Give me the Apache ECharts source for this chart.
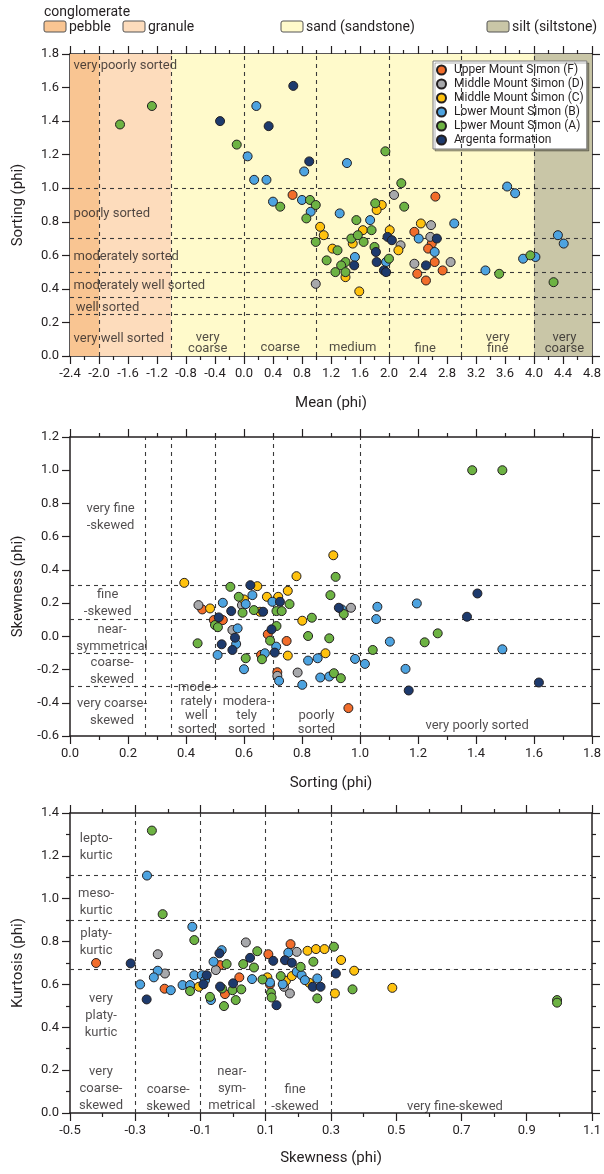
<!DOCTYPE html>
<html>
<head>
<meta charset="utf-8">
<script src="https://cdn.jsdelivr.net/npm/echarts@6/dist/echarts.min.js"></script>
<style>
html, body {margin: 0; background: #fff;}
#chart {width: 604px; height: 1174px;}
</style>
</head>
<body>
<div id="chart"></div>
<script>
// series names and colours
const names = ['Upper Mount Simon (F)', 'Middle Mount Simon (D)', 'Middle Mount Simon (C)',
	'Lower Mount Simon (B)', 'Lower Mount Simon (A)', 'Argenta formation'];
const colors = ['#F26D2B', '#A7A8AB', '#FFC20E', '#4DA3E0', '#6DB343', '#1D3A6D'];

// panel 1: mean (phi) vs sorting (phi)
const sortF = [[0.67,0.96],[2.64,0.95],[2.35,0.74],[2.59,0.67],[2.54,0.64],[2.63,0.56],[2.74,0.51],[2.39,0.49],[2.51,0.45]];
const sortD = [[2.07,0.96],[2.58,0.78],[2.16,0.66],[2.57,0.71],[2.35,0.55],[2.85,0.56],[0.99,0.43]];
const sortC = [[1.90,0.90],[1.83,0.87],[1.05,0.77],[1.10,0.72],[1.64,0.75],[2.01,0.75],[2.44,0.79],[1.50,0.67],[2.13,0.63],[1.22,0.64],[1.40,0.47],[1.59,0.385]];
const sortB = [[0.05,1.19],[1.42,1.15],[0.83,1.10],[0.14,1.05],[0.31,1.05],[0.40,0.92],[0.80,0.93],[0.92,0.86],[1.32,0.85],[1.74,0.81],[2.90,0.79],[2.41,0.70],[2.63,0.62],[1.53,0.59],[1.96,0.56],[0.17,1.49],[3.63,1.01],[3.74,0.97],[4.33,0.72],[4.41,0.67],[3.85,0.58],[4.02,0.59],[3.33,0.51]];
const sortA = [[-1.71,1.38],[-1.27,1.49],[-0.10,1.26],[1.95,1.22],[2.17,1.03],[0.50,0.89],[0.91,0.93],[0.99,0.90],[0.86,0.82],[1.81,0.91],[2.21,0.89],[1.55,0.81],[1.76,0.75],[0.99,0.68],[1.48,0.70],[1.57,0.72],[1.65,0.68],[1.29,0.63],[1.14,0.57],[1.40,0.56],[1.34,0.54],[1.26,0.50],[1.40,0.50],[1.80,0.65],[2.00,0.58],[3.95,0.60],[3.52,0.49],[4.27,0.44]];
const sortArg = [[-0.33,1.40],[0.68,1.61],[0.34,1.37],[0.90,1.16],[1.98,0.71],[2.04,0.69],[2.66,0.70],[1.52,0.54],[1.82,0.62],[1.83,0.56],[1.93,0.51],[1.96,0.50],[2.51,0.54]];

// panel 2: sorting (phi) vs skewness (phi)
const skewF = [[0.456,0.162],[0.496,0.098],[0.527,0.098],[0.682,0.012],[0.659,-0.112],[0.747,-0.028],[0.715,-0.216],[0.96,-0.432]];
const skewD = [[0.443,0.188],[0.593,0.188],[0.969,0.172],[0.56,0.038],[0.715,-0.238],[0.785,-0.218]];
const skewC = [[0.394,0.322],[0.483,0.168],[0.6,0.222],[0.646,0.302],[0.655,0.148],[0.679,0.238],[0.718,0.238],[0.751,0.274],[0.781,0.362],[0.801,0.094],[0.908,0.488],[0.751,-0.116],[0.881,-0.102]];
const skewB = [[0.527,0.202],[0.606,0.194],[0.629,0.248],[0.698,0.208],[0.937,0.162],[1.06,0.178],[1.056,0.104],[1.196,0.198],[1.103,-0.032],[1.491,-0.078],[1.017,-0.166],[0.983,-0.136],[1.157,-0.196],[0.509,-0.112],[0.578,0.048],[0.573,-0.046],[0.6,-0.198],[0.672,-0.102],[0.711,-0.062],[0.721,-0.268],[0.821,-0.146],[0.854,-0.132],[0.801,-0.292],[0.863,-0.248],[0.894,-0.242]];
const skewA = [[0.5,0.068],[0.51,0.055],[0.553,0.298],[0.582,0.238],[0.595,0.142],[0.634,0.158],[0.757,0.194],[0.712,0.152],[0.73,0.152],[0.834,0.112],[0.916,0.358],[0.898,0.248],[0.944,0.134],[1.268,0.018],[1.223,-0.036],[1.044,-0.082],[0.44,-0.042],[0.606,-0.132],[0.69,-0.026],[0.712,0.062],[0.662,-0.138],[0.821,0.002],[0.894,-0.012],[0.91,-0.222],[0.934,-0.252],[1.387,1.0],[1.491,1.0]];
const skewArg = [[0.513,0.114],[0.556,0.152],[0.622,0.308],[0.666,0.148],[0.724,0.208],[0.927,0.172],[1.405,0.258],[1.369,0.118],[1.168,-0.326],[1.617,-0.278],[0.523,-0.048],[0.569,-0.008],[0.56,-0.082],[0.695,0.042],[0.706,-0.098]];

// panel 3: skewness (phi) vs kurtosis (phi)
const kurtF = [[-0.42,0.70],[-0.21,0.58],[-0.04,0.69],[0.108,0.741],[0.176,0.788],[0.019,0.633],[-0.025,0.555],[0.113,0.60]];
const kurtD = [[-0.231,0.741],[-0.209,0.651],[-0.053,0.667],[0.039,0.796],[0.195,0.752],[0.174,0.558],[0.156,0.589]];
const kurtC = [[-0.105,0.589],[0.228,0.757],[0.254,0.765],[0.28,0.765],[0.331,0.714],[0.371,0.664],[0.312,0.558],[0.105,0.633],[0.162,0.617],[0.18,0.639],[0.233,0.608],[0.488,0.584]];
const kurtB = [[-0.264,1.108],[-0.125,0.869],[-0.231,0.664],[-0.285,0.60],[-0.243,0.633],[-0.191,0.573],[-0.155,0.597],[-0.132,0.597],[-0.119,0.643],[-0.096,0.643],[-0.086,0.62],[-0.06,0.706],[-0.035,0.76],[0.169,0.748],[0.058,0.625],[0.113,0.609],[0.152,0.601],[0.195,0.659],[0.21,0.643],[0.22,0.62],[0.258,0.628],[-0.068,0.527]];
const kurtA = [[-0.249,1.318],[-0.216,0.928],[-0.119,0.807],[-0.132,0.569],[-0.02,0.695],[0.074,0.755],[0.031,0.695],[0.064,0.679],[0.207,0.682],[0.246,0.706],[0.309,0.776],[0.366,0.577],[0.09,0.623],[0.116,0.561],[0.118,0.539],[0.146,0.639],[0.258,0.535],[-0.034,0.581],[-0.002,0.573],[0.025,0.577],[-0.071,0.542],[-0.028,0.499],[0.008,0.527],[0.993,0.527],[0.993,0.515]];
const kurtArg = [[-0.314,0.698],[-0.265,0.53],[-0.081,0.643],[-0.091,0.601],[-0.042,0.745],[0.052,0.724],[0.123,0.71],[0.159,0.713],[0.18,0.701],[0.315,0.651],[0.133,0.503],[0.244,0.589],[0.268,0.589],[0.0,0.605],[-0.04,0.59]];

// grain size classes (mean, phi) and class boundaries
const sizeClasses = ['pebble', 'granule', 'sand (sandstone)', 'silt (siltstone)'];
const sizeBounds = [-2.4, -2.0, -1.0, 4.0, 4.8];
const meanLines = [-2, -1, 0, 1, 2, 3, 4];
const sortLines = [1.0, 0.7, 0.5, 0.35, 0.25];
const sortLinesX = [0.26, 0.35, 0.5, 0.7, 1.0];
const skewLines = [0.31, 0.1, -0.1, -0.3];
const skewLinesX = [-0.3, -0.1, 0.1, 0.3];
const kurtLines = [1.11, 0.9, 0.67];

const ink = '#231F20';
const font = 'Roboto';
const sizeColors = ['#F9C592', '#FDDCBC', '#FFFACB', '#C9C6A7'];

const panels = [
	[sortF, sortD, sortC, sortB, sortA, sortArg],
	[skewF, skewD, skewC, skewB, skewA, skewArg],
	[kurtF, kurtD, kurtC, kurtB, kurtA, kurtArg]
];

const grid = [
	{left: 70, top: 54, width: 522, height: 302},
	{left: 70, top: 437, width: 522, height: 299},
	{left: 70, top: 813, width: 522, height: 300}
];

const tickStyle = {color: ink, width: 1.2};

function xAxes(i, min, max, interval, name, gap)
{
	const common = {gridIndex: i, type: 'value', min, max, interval,
		splitLine: {show: false},
		axisLine: {onZero: false, lineStyle: {color: ink, width: 1.5}},
		axisTick: {length: 8, lineStyle: tickStyle},
		minorTick: {show: true, splitNumber: 2, length: 4, lineStyle: tickStyle}};
	return [
		{...common, position: 'bottom', name, nameLocation: 'middle', nameGap: gap,
			nameTextStyle: {fontFamily: font, fontSize: 15, color: ink},
			axisLabel: {margin: 11, fontFamily: font, fontSize: 13, color: ink,
				formatter: v => v.toFixed(1)}},
		{...common, position: 'top', axisLabel: {show: false}}
	];
}

function yAxes(i, min, max, name, minor)
{
	const common = {gridIndex: i, type: 'value', min, max, interval: 0.2,
		splitLine: {show: false},
		axisLine: {onZero: false, lineStyle: {color: ink, width: 1.5}},
		axisTick: {length: 8, lineStyle: tickStyle},
		minorTick: {show: minor, splitNumber: 2, length: 4, lineStyle: tickStyle}};
	return [
		{...common, position: 'left', name, nameLocation: 'middle', nameGap: 44,
			nameTextStyle: {fontFamily: font, fontSize: 15, color: ink},
			axisLabel: {margin: 11, fontFamily: font, fontSize: 13, color: ink,
				formatter: v => v.toFixed(1)}},
		{...common, position: 'right', axisLabel: {show: false}}
	];
}

const dash = {type: [4, 4], color: '#3a3a3a', width: 1.1};

function guides(i, xs, ys, areas)
{
	return {type: 'scatter', xAxisIndex: 2 * i, yAxisIndex: 2 * i, data: [], silent: true, z: 2,
		markArea: areas ? {silent: true, data: areas} : undefined,
		markLine: {silent: true, symbol: ['none', 'none'], label: {show: false}, lineStyle: dash,
			animation: false,
			data: [...xs.map(v => ({xAxis: v})), ...ys.map(v => ({yAxis: v}))]}};
}

function notes(i, list, lineHeight, left)
{
	return {type: 'scatter', xAxisIndex: 2 * i, yAxisIndex: 2 * i, silent: true, z: 3,
		symbolSize: 0,
		label: {show: true, position: left ? 'right' : 'inside', distance: 0,
			align: left ? 'left' : 'center',
			fontFamily: font, fontSize: 13, color: ink, lineHeight},
		data: list.map(([text, x, y]) => ({value: [x, y], label: {formatter: text}}))};
}

const areas = sizeClasses.map((_, k) => [
	{xAxis: sizeBounds[k], itemStyle: {color: sizeColors[k]}},
	{xAxis: sizeBounds[k + 1]}
]);

const series = [
	guides(0, meanLines, sortLines, areas),
	guides(1, sortLinesX, skewLines),
	guides(2, skewLinesX, kurtLines),
	notes(0, [
		['very poorly sorted', -2.35, 1.73],
		['poorly sorted', -2.35, 0.85],
		['moderately sorted', -2.35, 0.594],
		['moderately well sorted', -2.35, 0.42],
		['well sorted', -2.32, 0.29],
		['very well sorted', -2.35, 0.10]
	], 15, true),
	notes(0, [
		['very\ncoarse', -0.5, 0.078],
		['coarse', 0.5, 0.048],
		['medium', 1.5, 0.048],
		['fine', 2.5, 0.045],
		['very\nfine', 3.5, 0.078],
		['very\ncoarse', 4.42, 0.075]
	], 11),
	notes(1, [
		['very fine\n-skewed', 0.14, 0.715],
		['fine\n-skewed', 0.13, 0.2],
		['near-\nsymmetrical', 0.145, -0.013],
		['coarse-\nskewed', 0.145, -0.21],
		['very coarse-\nskewed', 0.145, -0.455]
	], 17),
	notes(1, [
		['mode-\nrately\nwell\nsorted', 0.436, -0.435],
		['modera-\ntely\nsorted', 0.609, -0.477],
		['poorly\nsorted', 0.85, -0.52],
		['very poorly sorted', 1.404, -0.54]
	], 14),
	notes(2, [
		['lepto-\nkurtic', -0.42, 1.24],
		['meso-\nkurtic', -0.42, 0.985],
		['platy-\nkurtic', -0.42, 0.795],
		['very\nplaty-\nkurtic', -0.405, 0.455],
		['very\ncoarse-\nskewed', -0.405, 0.113],
		['coarse-\nskewed', -0.199, 0.07],
		['near-\nsym-\nmetrical', -0.004, 0.113],
		['fine\n-skewed', 0.19, 0.07],
		['very fine-skewed', 0.68, 0.03]
	], 17)
];

panels.forEach((sets, i) => sets.forEach((data, k) => series.push({
	type: 'scatter', name: names[k], xAxisIndex: 2 * i, yAxisIndex: 2 * i, data,
	symbolSize: 9, z: 5,
	itemStyle: {color: colors[k], borderColor: ink, borderWidth: 1, opacity: 1}
})));

// swatch legend for the background size classes
const swatchX = [44, 123, 281, 487];
const graphic = [{type: 'text', x: 44, y: 12,
	style: {text: 'conglomerate', font: `14px ${font}`, fill: ink, verticalAlign: 'middle'}}];
sizeClasses.forEach((label, k) =>
{
	graphic.push({type: 'rect', shape: {x: swatchX[k], y: 21, width: 22, height: 11, r: 2},
		style: {fill: sizeColors[k], stroke: '#555', lineWidth: 1}});
	graphic.push({type: 'text', x: swatchX[k] + 25, y: 27,
		style: {text: label, font: `14px ${font}`, fill: ink, verticalAlign: 'middle'}});
});

const chart = echarts.init(document.getElementById('chart'));
chart.setOption({
	animation: false,
	grid,
	graphic,
	xAxis: [
		...xAxes(0, -2.4, 4.8, 0.4, 'Mean (phi)', 40),
		...xAxes(1, 0, 1.8, 0.2, 'Sorting (phi)', 40),
		...xAxes(2, -0.5, 1.1, 0.2, 'Skewness (phi)', 38)
	],
	yAxis: [
		...yAxes(0, 0, 1.8, 'Sorting (phi)', false),
		...yAxes(1, -0.6, 1.2, 'Skewness (phi)', false),
		...yAxes(2, 0, 1.4, 'Kurtosis (phi)', true)
	],
	legend: {data: names, left: 433, top: 61, orient: 'vertical', itemGap: 2,
		itemWidth: 9, itemHeight: 9, icon: 'circle', selectedMode: false,
		textStyle: {fontFamily: font, fontSize: 12, color: ink, padding: [0, 0, 0, 3]},
		backgroundColor: '#fff', borderColor: '#777', borderWidth: 1, padding: [3, 3, 3, 3],
		shadowColor: 'rgba(0,0,0,0.3)', shadowOffsetX: 2, shadowOffsetY: 2, shadowBlur: 0},
	series
});
</script>
</body>
</html>
